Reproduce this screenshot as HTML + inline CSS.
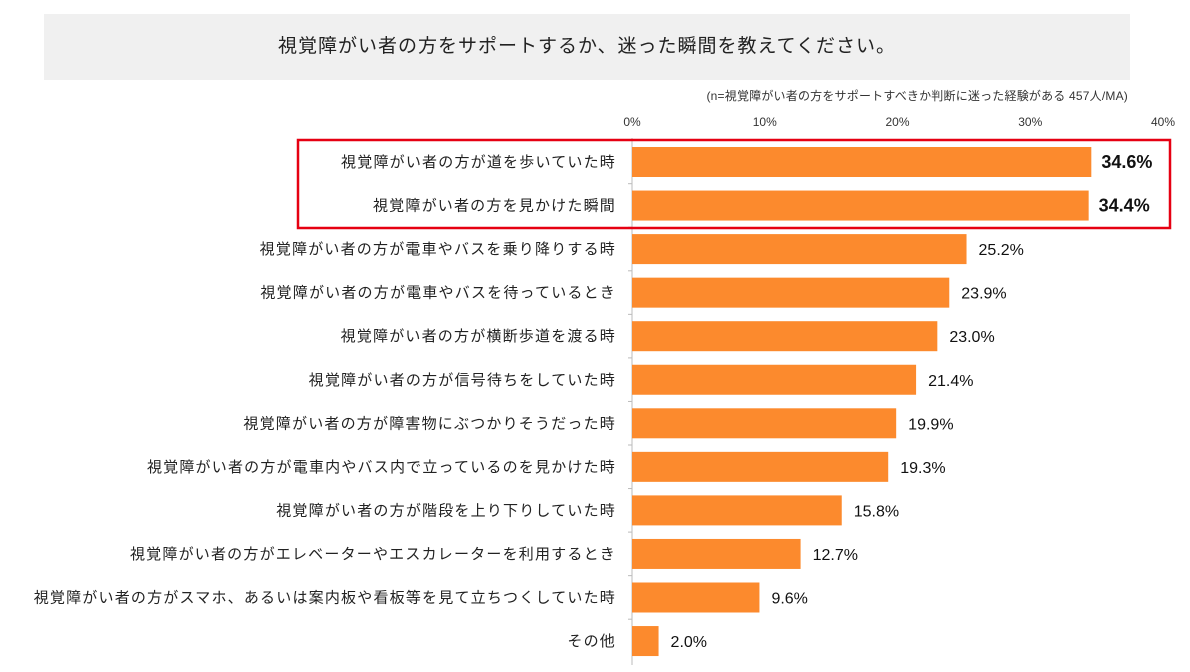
<!DOCTYPE html>
<html><head><meta charset="utf-8"><style>
body{margin:0;width:1190px;height:672px;background:#fff;font-family:"Liberation Sans","Noto Sans CJK JP",sans-serif;overflow:hidden;position:relative}
#title{position:absolute;left:44px;top:14px;width:1086px;height:66px;background:#f0f0f0;font-size:19px;letter-spacing:1px;color:#222;text-align:center;line-height:66px}
#note{position:absolute;right:62px;top:87px;font-size:12px;letter-spacing:0.2px;color:#333}
svg{position:absolute;left:0;top:0}
</style></head><body>
<div id="title">視覚障がい者の方をサポートするか、迷った瞬間を教えてください。</div>
<div id="note">(n=視覚障がい者の方をサポートすべきか判断に迷った経験がある 457人/MA)</div>
<svg id="chart" width="1190" height="672"></svg>
<script>
const categories=["視覚障がい者の方が道を歩いていた時","視覚障がい者の方を見かけた瞬間","視覚障がい者の方が電車やバスを乗り降りする時","視覚障がい者の方が電車やバスを待っているとき","視覚障がい者の方が横断歩道を渡る時","視覚障がい者の方が信号待ちをしていた時","視覚障がい者の方が障害物にぶつかりそうだった時","視覚障がい者の方が電車内やバス内で立っているのを見かけた時","視覚障がい者の方が階段を上り下りしていた時","視覚障がい者の方がエレベーターやエスカレーターを利用するとき","視覚障がい者の方がスマホ、あるいは案内板や看板等を見て立ちつくしていた時","その他"];
const values=[34.6,34.4,25.2,23.9,23.0,21.4,19.9,19.3,15.8,12.7,9.6,2.0];
const ticks=[0,10,20,30,40];
const svg=document.getElementById('chart');
const NS='http://www.w3.org/2000/svg';
const x=v=>632+v*13.275;
const y=i=>162+i*43.55;
function mk(t,a,txt){const e=document.createElementNS(NS,t);for(const k in a)e.setAttribute(k,a[k]);if(txt!=null)e.textContent=txt;svg.appendChild(e);return e;}
ticks.forEach(t=>{
const e=mk('text',{x:x(t),y:126,'text-anchor':'middle','font-size':12,fill:'#333'},t+'%');


});
const ax=mk('line',{x1:632,y1:138,x2:632,y2:665,stroke:'#bbb','stroke-width':1});


values.forEach((v,i)=>{
const r=mk('rect',{x:632,y:y(i)-15,width:x(v)-632,height:30,fill:'#fc8a2d'});


const l=mk('text',{x:616,y:y(i)+5,'text-anchor':'end','font-size':15,'letter-spacing':1.2,fill:'#222'},categories[i]);


const b=i<2;
const vl=mk('text',{x:x(v)+(b?10:12),y:y(i)+6,'font-size':b?18:16,'font-weight':b?'bold':'normal',fill:'#111'},v.toFixed(1)+'%');


if(i<values.length-1){const tk=mk('line',{x1:628,y1:y(i)+21.7,x2:632,y2:y(i)+21.7,stroke:'#bbb'});

}
});
const hb=mk('rect',{x:298,y:140,width:872,height:88,fill:'none',stroke:'#e60012','stroke-width':2.5});


</script>
</body></html>
